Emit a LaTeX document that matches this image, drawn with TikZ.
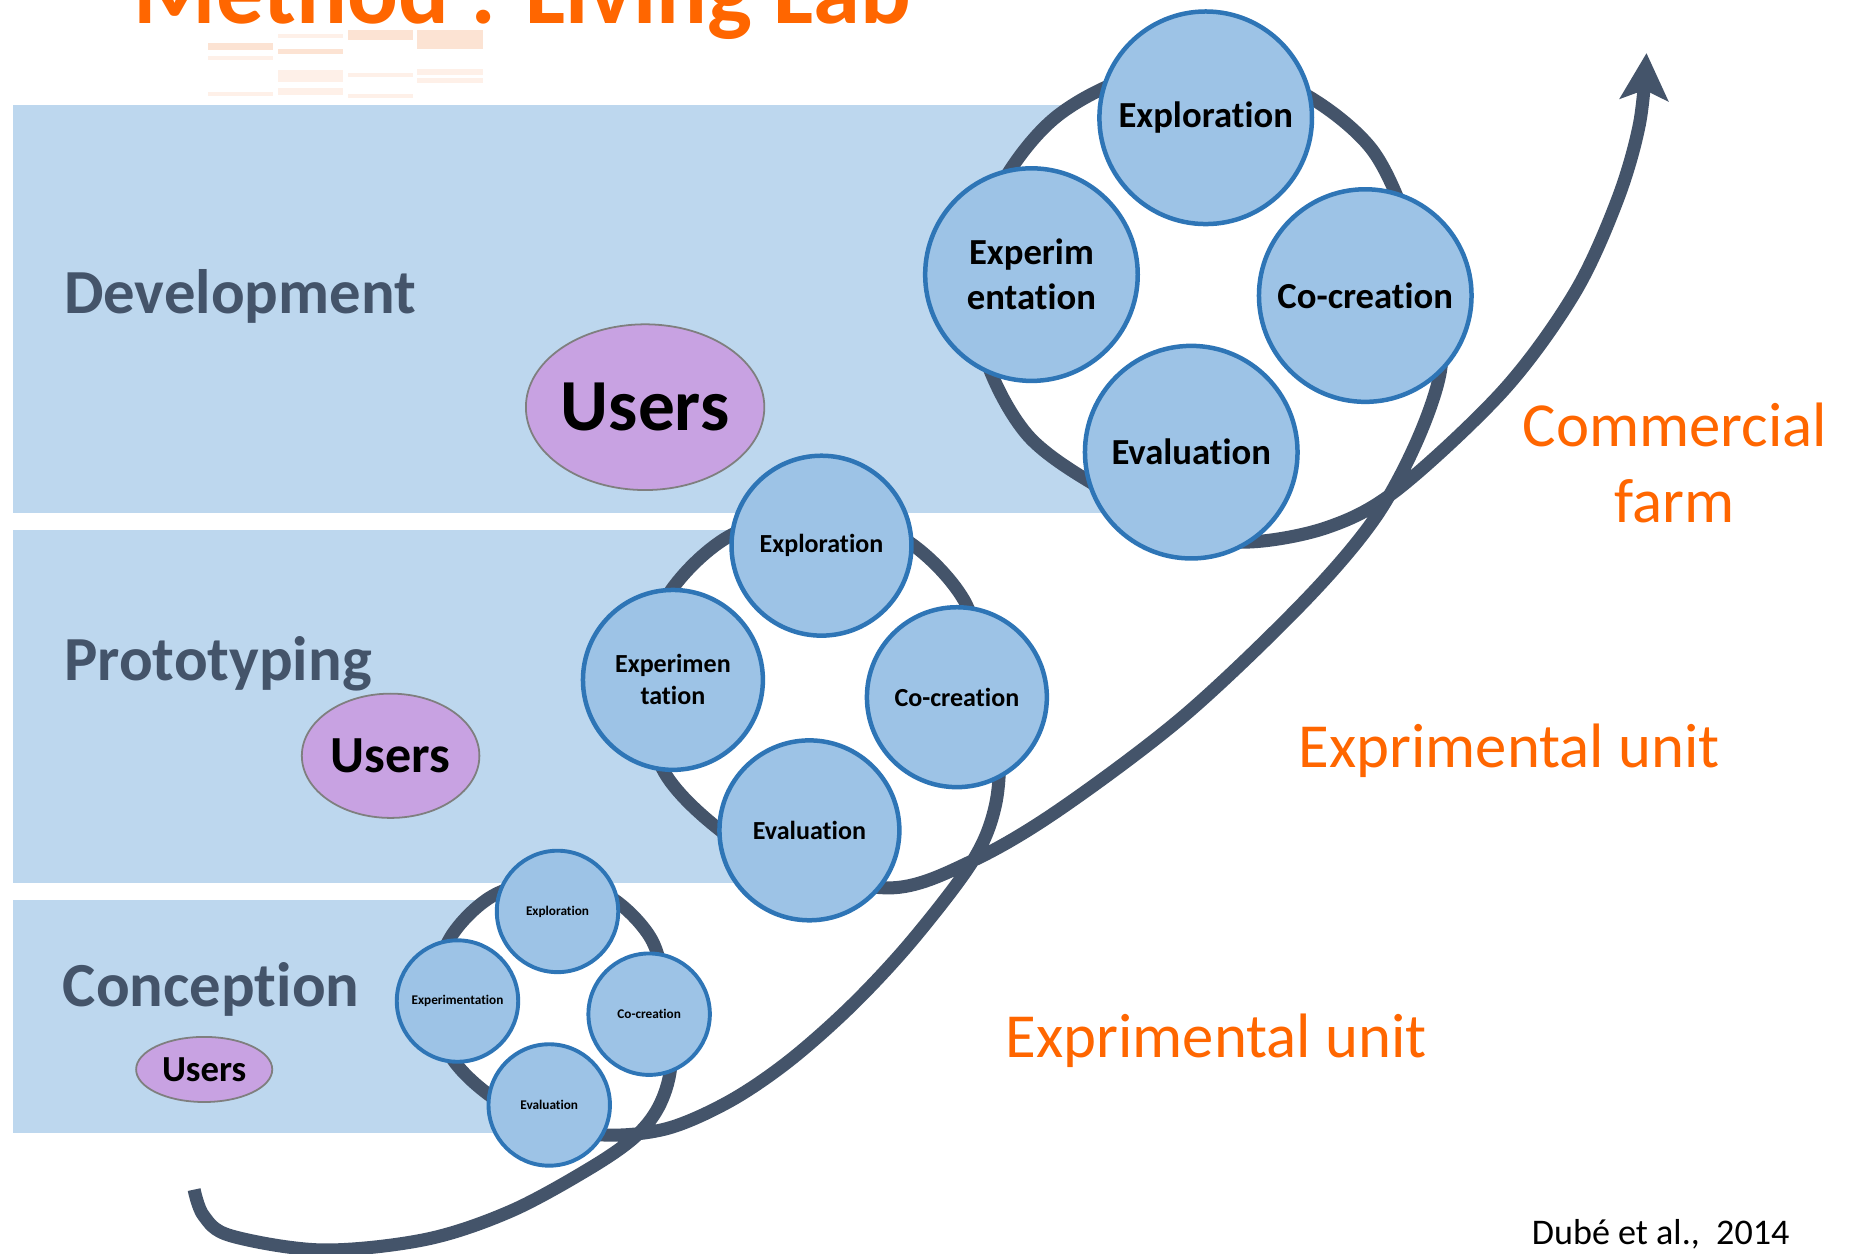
\documentclass[tikz,border=0pt]{standalone}
\usepackage{fontspec}
\setmainfont{Carlito}[Ligatures=NoCommon]
\usetikzlibrary{arrows.meta,shapes.geometric}
\definecolor{band}{HTML}{BDD7EE}
\definecolor{cfill}{HTML}{9DC3E6}
\definecolor{cline}{HTML}{2E75B6}
\definecolor{slate}{HTML}{44546A}
\definecolor{usersfill}{HTML}{C8A2E2}
\definecolor{usersline}{HTML}{7F7F7F}
\definecolor{orangetxt}{HTML}{FF6600}
\definecolor{peach}{HTML}{FCE3D3}
\definecolor{peachlight}{HTML}{FEF0E8}
\begin{document}
\begin{tikzpicture}[x=1pt,y=-1pt,
  bandbox/.style={fill=band, draw=none},
  ringdisk/.style={fill=white, draw=none},
  spiral/.style={draw=slate, line width=11pt, line join=round},
  stage/.style={text=slate, font=\fontsize{53}{64}\selectfont\bfseries, anchor=base west, inner sep=0pt},
  olabel/.style={text=orangetxt, font=\fontsize{53}{64}\selectfont, anchor=base, inner sep=0pt},
  users/.style={ellipse, fill=usersfill, draw=usersline, line width=1.5pt, inner sep=0pt},
  bigc/.style={circle, fill=cfill, draw=cline, line width=3.8pt, minimum size=179.6pt, inner sep=0pt, align=center, font=\fontsize{31}{38}\selectfont\bfseries},
  midc/.style={circle, fill=cfill, draw=cline, line width=3.8pt, minimum size=152pt, inner sep=0pt, align=center, font=\fontsize{22}{27}\selectfont\bfseries},
  smallc/.style={circle, fill=cfill, draw=cline, line width=3.3pt, minimum size=102.6pt, inner sep=0pt, align=center, font=\fontsize{11.2}{13.7}\selectfont\bfseries},
  refl/.style={fill=peach, draw=none},
  refllight/.style={fill=peachlight, draw=none}
]
\useasboundingbox[fill=white] (0,0) rectangle (1568,1059);

% bands
\fill[bandbox] (11,89) rectangle (950,433);
\fill[bandbox] (11,448) rectangle (640,746);
\fill[bandbox] (11,760) rectangle (440,957);

% faint reflection under the title
\fill[refl] (176,36) rectangle (231,42);
\fill[refllight] (176,47) rectangle (231,51);
\fill[refllight] (176,78) rectangle (231,81);
\fill[refllight] (235,29) rectangle (290,32);
\fill[refl] (235,41) rectangle (290,46);
\fill[refllight] (235,59) rectangle (290,69);
\fill[refllight] (235,74) rectangle (290,80);
\fill[refl] (294,25) rectangle (349,34);
\fill[refllight] (294,62) rectangle (349,65);
\fill[refllight] (294,79) rectangle (349,83);
\fill[refl] (352,25) rectangle (408,41);
\fill[refllight] (352,58) rectangle (408,63);
\fill[refllight] (352,66) rectangle (408,70);

% title (cut by the top edge, as in the reference)
\node[anchor=base west, inner sep=0pt, text=orangetxt, font=\fontsize{80}{90}\selectfont\bfseries] (title) at (113,20) {Method : Living Lab};

% white interiors of the loops
\fill[ringdisk] (1012,245) circle[radius=189];
\fill[ringdisk] (688,580) circle[radius=146];
\fill[ringdisk] (465,842) circle[radius=98];

% spiral
\draw[spiral, -{Stealth[length=40pt, width=42pt, inset=9pt, line width=0pt]}]
 plot[smooth, tension=0.55] coordinates {
 (164,1005) (172,1027) (195,1044) (272,1056) (360,1047) (432,1023) (500,986)
 (538,959) (558,932) (567,897) (563,842) (550,793) (514,757) (465,744)
 (416,757) (380,793) (367,842) (380,891) (416,927) (465,951) (514,959)
 (565,953) (617,930) (667,896) (720,849) (771,794) (822,727) (841,680) (844,628)
 (834,580) (814.4,507) (761,453.6) (688,434) (615,453.6) (561.6,507) (542,580)
 (561.6,653) (615,706.4) (672,735) (755,750) (822,727) (895,684) (1000,605)
 (1100,510) (1160,440) (1196,375) (1217,313) (1214,262) (1198.1,212.2)
 (1156.8,123.5) (1076.6,67.4) (979.2,58.9) (890.5,100.2) (834.4,180.4)
 (825.9,277.8) (867.2,366.5) (947.4,422.6) (1000,446) (1051,458) (1120,446)
 (1180,414) (1270,330) (1330,248) (1366,170) (1385,105) (1391,45)};

% stage labels
\node[stage] (dev) at (54,265) {Development};
\node[stage] (pro) at (54,575) {Prototyping};
\node[stage] (con) at (53,850) {Conception};

% users
\node[users, minimum width=200pt, minimum height=140pt, font=\fontsize{62}{70}\selectfont\bfseries] (ubig) at (545,344) {Users};
\node[users, minimum width=150pt, minimum height=105pt, font=\fontsize{44}{50}\selectfont\bfseries] (umid) at (330,638.5) {Users};
\node[users, minimum width=115pt, minimum height=55pt, font=\fontsize{31}{36}\selectfont\bfseries] (usmall) at (172.5,903.5) {Users};

% big cluster
\node[bigc] (bexp) at (1018.6,99.5) {Exploration};
\node[bigc] (bxpt) at (871.4,232) {Experim\\entation};
\node[bigc] (bco) at (1153.4,249.7) {Co-creation};
\node[bigc] (bev) at (1006.4,382) {Evaluation};

% middle cluster
\node[midc] (mexp) at (694,461) {Exploration};
\node[midc] (mxpt) at (568.5,574.4) {Experimen\\tation};
\node[midc] (mco) at (808.4,589) {Co-creation};
\node[midc] (mev) at (683.8,701.5) {Evaluation};

% small cluster
\node[smallc] (sexp) at (471,770) {Exploration};
\node[smallc] (sxpt) at (386.5,845.7) {Experimentation};
\node[smallc] (sco) at (548.4,856.8) {Co-creation};
\node[smallc] (sev) at (464,933.5) {Evaluation};

% orange labels
\node[olabel] (com) at (1415,377) {Commercial};
\node[olabel] (farm) at (1415,441) {farm};
\node[olabel] (eu1) at (1275,648) {Exprimental unit};
\node[olabel] (eu2) at (1027.5,893) {Exprimental unit};

% citation
\node[anchor=base west, inner sep=0pt, font=\fontsize{30.5}{36}\selectfont] (cite) at (1294,1051) {Dubé et al.,\ \ 2014};
\end{tikzpicture}
\end{document}
